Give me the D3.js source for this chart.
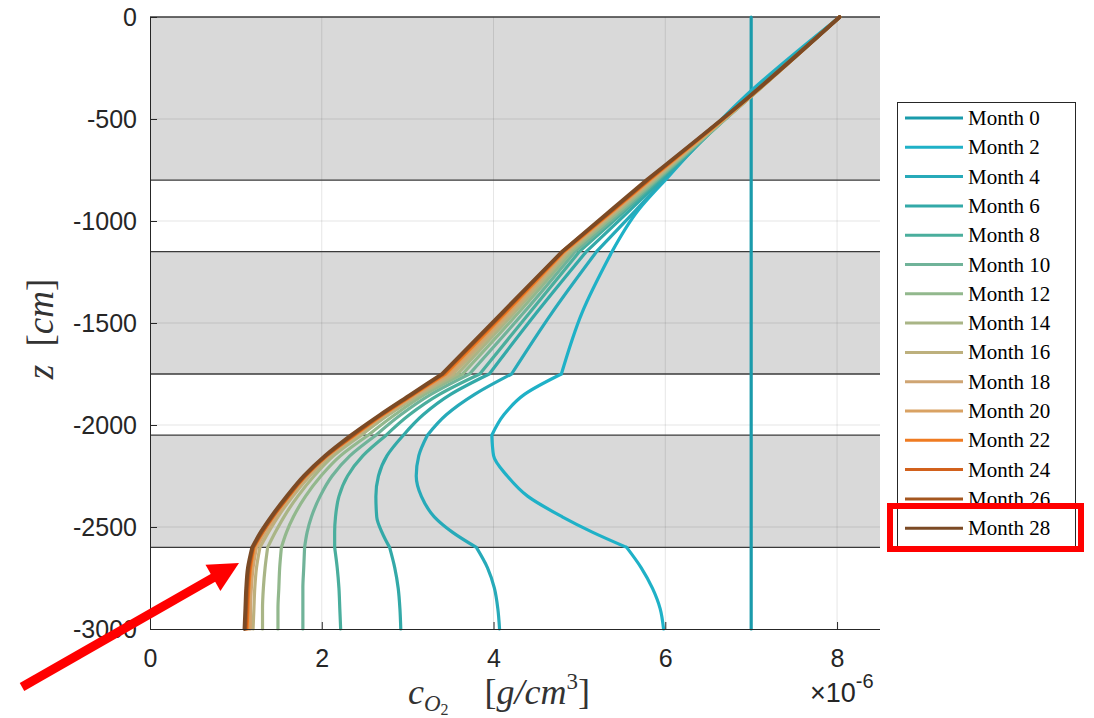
<!DOCTYPE html>
<meta charset="utf-8">
<head>
    <title>Oxygen profiles</title>
    <script src="https://cdn.jsdelivr.net/npm/d3@7"></script>
</head>

<style>
    body { margin: 0; background: #fff; }
    .tick text { font-family: "Liberation Sans", Arial, sans-serif; font-size: 25px; fill: #262626; }
    .domain { stroke: #262626; }
    .tick line { stroke: #262626; }
    .lab { font-family: "Liberation Serif", "DejaVu Serif", serif; fill: #333; }
    .leg { font-family: "Liberation Serif", "DejaVu Serif", serif; font-size: 21px; fill: #000; }
</style>

<svg></svg>

<script>
    // data (concentration in 1e-6 g/cm^3, depth in cm)
    var depth = [0, -400, -800, -950, -1150, -1450, -1750, -1850, -1950, -2050,
                 -2150, -2250, -2350, -2450, -2525, -2600, -2700, -2800, -2900, -3000];
    var months = [0, 2, 4, 6, 8, 10, 12, 14, 16, 18, 20, 22, 24, 26, 28];

    var m0  = [7.00, 7.00, 7.00, 7.00, 7.00, 7.00, 7.00, 7.00, 7.00, 7.00, 7.00, 7.00, 7.00, 7.00, 7.00, 7.00, 7.00, 7.00, 7.00, 7.00];
    var m2  = [8.03, 6.90, 6.00, 5.68, 5.38, 5.03, 4.79, 4.36, 4.12, 3.98, 4.00, 4.16, 4.40, 4.80, 5.15, 5.55, 5.72, 5.85, 5.94, 5.98];
    var m4  = [8.03, 6.93, 5.98, 5.65, 5.20, 4.68, 4.21, 3.78, 3.45, 3.23, 3.13, 3.10, 3.16, 3.31, 3.52, 3.80, 3.93, 4.01, 4.05, 4.07];
    var m6  = [8.03, 6.95, 5.95, 5.58, 5.08, 4.50, 3.95, 3.50, 3.18, 2.95, 2.76, 2.66, 2.63, 2.64, 2.70, 2.79, 2.85, 2.89, 2.91, 2.92];
    var m8  = [8.03, 6.96, 5.92, 5.53, 5.00, 4.42, 3.84, 3.37, 3.02, 2.75, 2.48, 2.30, 2.20, 2.16, 2.15, 2.15, 2.18, 2.20, 2.21, 2.22];
    var m10 = [8.03, 6.97, 5.90, 5.50, 4.95, 4.35, 3.72, 3.27, 2.92, 2.63, 2.33, 2.12, 1.98, 1.88, 1.83, 1.80, 1.79, 1.78, 1.78, 1.78];
    var m12 = [8.03, 6.97, 5.88, 5.47, 4.91, 4.29, 3.64, 3.20, 2.85, 2.54, 2.22, 1.99, 1.81, 1.67, 1.59, 1.53, 1.51, 1.50, 1.49, 1.49];
    var m14 = [8.03, 6.97, 5.86, 5.44, 4.88, 4.24, 3.58, 3.15, 2.78, 2.46, 2.14, 1.91, 1.72, 1.56, 1.46, 1.37, 1.34, 1.32, 1.31, 1.31];
    var m16 = [8.03, 6.97, 5.85, 5.43, 4.86, 4.21, 3.53, 3.12, 2.75, 2.42, 2.10, 1.86, 1.66, 1.49, 1.38, 1.28, 1.24, 1.22, 1.21, 1.20];
    var m18 = [8.03, 6.96, 5.83, 5.41, 4.84, 4.18, 3.49, 3.10, 2.73, 2.40, 2.08, 1.83, 1.63, 1.46, 1.34, 1.24, 1.20, 1.18, 1.17, 1.17];
    var m20 = [8.03, 6.96, 5.82, 5.40, 4.83, 4.16, 3.46, 3.08, 2.72, 2.39, 2.07, 1.82, 1.62, 1.44, 1.32, 1.22, 1.18, 1.16, 1.15, 1.15];
    var m22 = [8.03, 6.96, 5.81, 5.39, 4.82, 4.14, 3.44, 3.07, 2.71, 2.38, 2.06, 1.81, 1.61, 1.43, 1.31, 1.21, 1.17, 1.15, 1.14, 1.13];
    var m24 = [8.03, 6.95, 5.80, 5.38, 4.81, 4.12, 3.42, 3.06, 2.70, 2.37, 2.06, 1.81, 1.61, 1.43, 1.31, 1.20, 1.16, 1.14, 1.13, 1.12];
    var m26 = [8.03, 6.95, 5.79, 5.37, 4.80, 4.11, 3.41, 3.05, 2.69, 2.36, 2.05, 1.80, 1.60, 1.42, 1.30, 1.20, 1.15, 1.13, 1.12, 1.11];
    var m28 = [8.03, 6.95, 5.78, 5.36, 4.80, 4.10, 3.40, 3.04, 2.68, 2.34, 2.04, 1.79, 1.59, 1.41, 1.29, 1.19, 1.14, 1.12, 1.11, 1.10];

    var series = [m0, m2, m4, m6, m8, m10, m12, m14, m16, m18, m20, m22, m24, m26, m28];
    var colors = ['#1a9bab', '#1fb1c7', '#27aab9', '#33a9a8', '#4aae9d', '#70b399', '#92b88d', '#a9b586',
                  '#bdb07d', '#cfa573', '#d9a263', '#ef7b22', '#d2611c', '#a4561f', '#7b4a25'];

    // soil layers (top, bottom) and the grey ones
    var layerBounds = [0, -800, -1150, -1750, -2050, -2600, -3000];
    var greyLayers = [[0, -800], [-1150, -1750], [-2050, -2600]];

    var xTicks = [0, 2, 4, 6, 8];
    var zTicks = [0, -500, -1000, -1500, -2000, -2500, -3000];

    // layout
    var W = 1094, H = 718;
    var L = 150, R = 880, T = 17, B = 629;

    var svg = d3.select('svg').attr('width', W).attr('height', H);

    var x = d3.scaleLinear().domain([0, 8.5]).range([L, R]);
    var y = d3.scaleLinear().domain([0, -3000]).range([T, B]);

    // grey bands
    svg.append('g').selectAll('rect').data(greyLayers).enter().append('rect')
        .attr('x', x(0)).attr('width', x(8.5) - x(0))
        .attr('y', function (d) { return y(d[0]); })
        .attr('height', function (d) { return y(d[1]) - y(d[0]); })
        .attr('fill', '#d9d9d9');

    // grid
    var grid = svg.append('g').attr('stroke', '#000').attr('stroke-opacity', 0.1).attr('stroke-width', 1);
    grid.selectAll('.gx').data(xTicks.slice(1)).enter().append('line')
        .attr('x1', function (d) { return x(d); }).attr('x2', function (d) { return x(d); })
        .attr('y1', T).attr('y2', B);
    grid.selectAll('.gy').data(zTicks.slice(1, -1)).enter().append('line')
        .attr('y1', function (d) { return y(d); }).attr('y2', function (d) { return y(d); })
        .attr('x1', L).attr('x2', R);

    // layer boundaries
    svg.append('g').selectAll('line').data(layerBounds.slice(0, -1)).enter().append('line')
        .attr('x1', L).attr('x2', R)
        .attr('y1', function (d) { return y(d); }).attr('y2', function (d) { return y(d); })
        .attr('stroke', '#3a3a3a').attr('stroke-width', 1.3);

    // curves: smooth inside each layer, kinks allowed at the boundaries
    var line = d3.line()
        .x(function (d) { return x(d[0]); })
        .y(function (d) { return y(d[1]); })
        .curve(d3.curveMonotoneY);

    function profilePath(vals) {
        var pts = vals.map(function (v, i) { return [v, depth[i]]; });
        var out = '';
        for (var k = 0; k < layerBounds.length - 1; k++) {
            var top = layerBounds[k], bot = layerBounds[k + 1];
            var seg = pts.filter(function (p) { return p[1] <= top && p[1] >= bot; });
            out += line(seg);
        }
        return out;
    }

    svg.append('g').selectAll('path').data(series).enter().append('path')
        .attr('d', profilePath)
        .attr('fill', 'none')
        .attr('stroke', function (d, i) { return colors[i]; })
        .attr('stroke-width', function (d, i) { return i === series.length - 1 ? 3.8 : 3.2; })
        .attr('stroke-linecap', 'round')
        .attr('stroke-linejoin', 'round');

    // axes
    var xAxis = svg.append('g').attr('transform', 'translate(0,' + B + ')')
        .call(d3.axisBottom(x).tickValues(xTicks).tickSizeInner(-7).tickSizeOuter(0).tickPadding(20)
            .tickFormat(function (d) { return String(d); }));
    xAxis.select('.domain').attr('d', 'M' + L + ',0.5H' + R);
    xAxis.selectAll('.tick line').filter(function (d) { return d === 0; }).remove();

    var yAxis = svg.append('g').attr('transform', 'translate(' + L + ',0)')
        .call(d3.axisLeft(y).tickValues(zTicks).tickSizeInner(-7).tickSizeOuter(0).tickPadding(13)
            .tickFormat(function (d) { return String(d); }));
    yAxis.select('.domain').attr('d', 'M0.5,' + T + 'V' + B);

    // axis labels
    var xl = svg.append('text').attr('class', 'lab').attr('x', 499).attr('y', 704)
        .attr('text-anchor', 'middle').attr('font-size', 36);
    xl.append('tspan').attr('font-style', 'italic').text('c');
    xl.append('tspan').attr('font-style', 'italic').attr('font-size', 23).attr('dy', 7).text('O');
    xl.append('tspan').attr('font-size', 16).attr('dy', 4).text('2');
    xl.append('tspan').attr('dy', -11).text('\u2003[');
    xl.append('tspan').attr('font-style', 'italic').text('g/cm');
    xl.append('tspan').attr('font-size', 23).attr('dy', -15).text('3');
    xl.append('tspan').attr('dy', 15).text(']');

    var yl = svg.append('text').attr('class', 'lab')
        .attr('transform', 'translate(53,329) rotate(-90)')
        .attr('text-anchor', 'middle').attr('font-size', 37);
    yl.append('tspan').attr('font-style', 'italic').text('z');
    yl.append('tspan').text('\u2002[');
    yl.append('tspan').attr('font-style', 'italic').text('cm');
    yl.append('tspan').text(']');

    var ex = svg.append('text').attr('x', 810).attr('y', 702)
        .attr('font-family', '"Liberation Sans", Arial, sans-serif').attr('font-size', 27).attr('fill', '#262626');
    ex.append('tspan').text('\u00d710');
    ex.append('tspan').attr('font-size', 20).attr('dy', -14).text('-6');

    // legend
    var lgX = 897, lgY = 102, lgW = 178, lgH = 444, rowH = 29.3;
    var lg = svg.append('g');
    lg.append('rect').attr('x', lgX + 0.5).attr('y', lgY + 0.5).attr('width', lgW).attr('height', lgH)
        .attr('fill', '#fff').attr('stroke', '#262626').attr('stroke-width', 1);
    var rows = lg.selectAll('.row').data(months).enter().append('g')
        .attr('transform', function (d, i) { return 'translate(0,' + (lgY + 16 + i * rowH) + ')'; });
    rows.append('line').attr('x1', lgX + 8).attr('x2', lgX + 66).attr('y1', 0).attr('y2', 0)
        .attr('stroke', function (d, i) { return colors[i]; }).attr('stroke-width', 3);
    rows.append('text').attr('class', 'leg').attr('x', lgX + 71).attr('y', 7)
        .text(function (d) { return 'Month ' + d; });

    // annotation: red box and arrow
    svg.append('rect').attr('x', 890).attr('y', 506).attr('width', 191).attr('height', 43)
        .attr('fill', 'none').attr('stroke', '#ff0000').attr('stroke-width', 6);

    var tip = [239, 563], tail = [22, 687];
    var ang = Math.atan2(tip[1] - tail[1], tip[0] - tail[0]);
    var headL = 30, headW = 15;
    var base = [tip[0] - headL * Math.cos(ang), tip[1] - headL * Math.sin(ang)];
    svg.append('line').attr('x1', tail[0]).attr('y1', tail[1]).attr('x2', base[0] + 2 * Math.cos(ang)).attr('y2', base[1] + 2 * Math.sin(ang))
        .attr('stroke', '#ff0000').attr('stroke-width', 9);
    svg.append('path').attr('fill', '#ff0000')
        .attr('d', 'M' + tip + 'L' + [base[0] + headW * Math.sin(ang), base[1] - headW * Math.cos(ang)] +
            'L' + [base[0] - headW * Math.sin(ang), base[1] + headW * Math.cos(ang)] + 'Z');
</script>
